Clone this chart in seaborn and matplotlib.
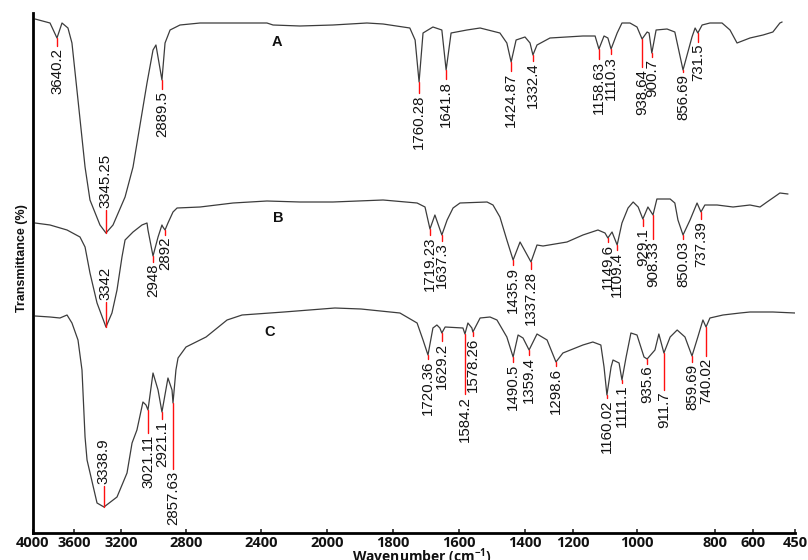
import numpy as np
import pandas as pd
import matplotlib
matplotlib.use("Agg")
import matplotlib.pyplot as plt
import seaborn as sns

# ---------------- data ----------------
# x-axis tick labels (cm-1) as printed on the (non-uniform) axis
TICK_WN = [4000, 3600, 3200, 2800, 2400, 2000, 1800, 1600, 1400, 1200, 1000, 800, 600, 450]

# Spectrum A
A_WN = [3980, 3834, 3766, 3717, 3659, 3620, 3566, 3506, 3464, 3379, 3328, 3268,
        3175, 3126, 3040, 3003, 2985, 2948, 2929, 2898, 2837, 2725, 2549, 2364,
        2327, 2164, 1982, 1879, 1830, 1749, 1733, 1721, 1709, 1679, 1652, 1639,
        1624, 1576, 1536, 1476, 1455, 1442, 1427, 1400, 1379, 1367, 1350, 1296,
        1169, 1131, 1119, 1103, 1091, 1081, 1062, 1047, 1022, 1000, 987, 974,
        969, 962, 951, 923, 903, 882, 859, 851, 844, 833, 813, 763,
        721, 684, 616, 564, 529, 504, 496]
A_T = [102.8, 102, 99, 102, 101, 98, 86.6, 73.2, 66.6, 61.6, 60, 61.6,
       67.2, 73.2, 90, 96.6, 97.6, 90.6, 98, 100.6, 101.6, 102, 102, 102,
       101.6, 101.4, 101.6, 102, 101.8, 101, 98.6, 90.2, 100, 101.2, 100.6, 92.6,
       100, 100.6, 101, 100, 98, 94.2, 98.6, 99.2, 98, 95.6, 97.6, 99,
       99.4, 99.4, 96.8, 99.4, 99, 96.8, 100, 102, 102, 101.2, 98.8, 100.2,
       100, 96, 100.6, 100.8, 100.2, 92.6, 99.2, 101, 100, 101.6, 102, 102,
       100.6, 98, 99, 99.6, 100.2, 102, 102.2]

# Spectrum B
B_WN = [3980, 3834, 3668, 3549, 3506, 3464, 3404, 3328, 3277, 3234, 3194, 3175,
        3126, 3071, 3040, 3034, 3003, 2972, 2948, 2942, 2929, 2911, 2880, 2855,
        2725, 2549, 2364, 2164, 1982, 1830, 1727, 1703, 1688, 1673, 1652, 1636,
        1618, 1597, 1515, 1497, 1476, 1455, 1436, 1415, 1375, 1350, 1325, 1225,
        1169, 1122, 1100, 1091, 1078, 1062, 1047, 1028, 1012, 997, 985, 972,
        959, 949, 915, 903, 895, 882, 864, 846, 836, 826, 789, 705,
        616, 575, 550, 514, 504, 475]
B_T = [62, 61.6, 60.6, 59.2, 57.2, 52, 46, 41.2, 44, 48.6, 55.2, 58.6,
       60.2, 61.6, 62, 60.6, 55.4, 59.2, 61.6, 61.2, 60.6, 62, 64.2, 65,
       65.2, 66, 66.4, 66.2, 66.2, 66.6, 66, 65.2, 60.8, 63.6, 59.6, 62.6,
       65, 66, 66.2, 65.6, 63.2, 58.6, 54.6, 58.2, 54.2, 57.6, 57.4, 58.2,
       59.6, 60.6, 60, 59, 60.2, 57.6, 62, 65, 66.2, 65.2, 62.8, 65.2,
       63.6, 66.8, 66.8, 66, 62.6, 59.6, 62.6, 66, 64.2, 65.6, 65.6, 65.2,
       65.6, 65.2, 66.2, 67.6, 68, 67.8]

# Spectrum C
C_WN = [3980, 3834, 3737, 3668, 3620, 3566, 3532, 3506, 3489, 3404, 3345, 3234,
        3163, 3132, 3102, 3065, 3046, 3034, 3003, 2972, 2948, 2911, 2886, 2880,
        2862, 2849, 2800, 2693, 2581, 2501, 2261, 1976, 1897, 1779, 1727, 1709,
        1694, 1679, 1667, 1658, 1652, 1642, 1588, 1582, 1573, 1561, 1558, 1536,
        1506, 1485, 1455, 1436, 1421, 1406, 1383, 1350, 1308, 1271, 1242, 1169,
        1138, 1113, 1103, 1094, 1081, 1075, 1056, 1047, 1034, 1019, 1000, 982,
        974, 954, 944, 931, 915, 897, 877, 859, 844, 831, 823, 813,
        758, 668, 616, 529, 450]
C_T = [43.4, 43.2, 43, 43.6, 42, 38.6, 32.6, 19.2, 14.6, 6, 5.2, 7.2,
       12, 18, 20.6, 26.2, 25.6, 24.6, 32, 28.6, 24.2, 31, 28.6, 26,
       32.6, 35, 37.2, 39.2, 42.6, 43.6, 44.2, 45, 44.8, 44, 42, 38.6,
       35.6, 41, 41.6, 41, 40, 41.2, 41, 39.8, 42, 41, 40.2, 43,
       43.2, 42.6, 39.2, 35.2, 39.6, 39, 36.6, 39.8, 38.6, 34.2, 36, 37.6,
       38.2, 37.6, 33.2, 27.6, 33.2, 34.6, 34, 30.6, 35.2, 40, 39.6, 35.2,
       34.8, 36.6, 39.8, 36, 39.2, 40.6, 39.2, 35.4, 39.2, 42.6, 41.2, 43,
       43.6, 44, 44.2, 44.2, 44]

# Peak annotations: printed label, position on axis, trace value at peak, value where label starts
A_PEAK_LABELS = ["3640.2", "3345.25", "2889.5", "1760.28", "1641.8", "1424.87", "1332.4",
                 "1158.63", "1110.3", "938.64", "900.7", "856.69", "731.5"]
A_PEAK_WN = [3766, 3328, 2948, 1721, 1639, 1442, 1367, 1119, 1081, 987, 962, 882, 844]
A_PEAK_T = [99, 60, 90.6, 90.2, 92.6, 94.2, 95.6, 96.8, 96.8, 98.8, 96, 92.6, 100]
A_LABEL_T = [97.4, 64.6, 88.8, 88, 90.8, 92.4, 94.4, 94.8, 95.8, 93.2, 95.2, 92.2, 98.2]

B_PEAK_LABELS = ["3342", "2948", "2892", "1719.23", "1637.3", "1435.9", "1337.28",
                 "1149.6", "1109.4", "929.1", "908.33", "850.03", "737.39"]
B_PEAK_WN = [3328, 3003, 2929, 1688, 1652, 1436, 1375, 1091, 1062, 985, 959, 882, 836]
B_PEAK_T = [41.2, 55.4, 60.6, 60.8, 59.6, 54.6, 54.2, 59, 57.6, 62.8, 63.6, 59.6, 64.2]
B_LABEL_T = [46.2, 54.2, 59.6, 59.6, 58.4, 53.6, 52.8, 58.2, 56.6, 61.4, 58.8, 58.8, 62.8]

C_PEAK_LABELS = ["3338.9", "3021.11", "2921.1", "2857.63", "1720.36", "1629.2", "1584.2",
                 "1578.26", "1490.5", "1359.4", "1298.6", "1160.02", "1111.1", "935.6",
                 "911.7", "859.69", "740.02"]
C_PEAK_WN = [3345, 3034, 2948, 2880, 1694, 1652, 1582, 1558, 1436, 1383, 1271, 1094,
             1047, 974, 931, 859, 823]
C_PEAK_T = [5.2, 24.6, 24.2, 26, 35.6, 40, 39.8, 40.2, 35.2, 36.6, 34.2, 27.6,
            30.6, 34.8, 36, 35.4, 41.2]
C_LABEL_T = [9.4, 20, 22.8, 12.8, 34.8, 38.4, 27.8, 39.4, 34.2, 35.6, 33.4, 27,
             30, 33.8, 28.6, 34.2, 35.4]

SAMPLE_NAMES = ["A", "B", "C"]
SAMPLE_NAME_WN = [2303, 2297, 2345]
SAMPLE_NAME_T = [98.2, 63, 40.2]

# ---------------- layout / style ----------------
# position of each printed tick along the (hand-spaced) axis
AXIS_POS = [33, 74, 121, 186, 261, 327, 393, 459, 525, 573, 637, 715, 753, 795]

W, H = 808, 560
sns.set_theme(style="white")
plt.rcParams["font.family"] = ["Liberation Sans", "DejaVu Sans"]
plt.rcParams["mathtext.fontset"] = "custom"
plt.rcParams["mathtext.rm"] = "Open Sans"
plt.rcParams["mathtext.bf"] = "Open Sans:bold"

# forward: increasing function of -wavenumber -> position along the axis
_wn_neg = -np.array(TICK_WN, float)   # ascending
_pos = np.array(AXIS_POS, float)      # ascending


def _pw(x, xp, fp):
    x = np.asarray(x, float)
    out = np.interp(x, xp, fp)
    s0 = (fp[1] - fp[0]) / (xp[1] - xp[0])
    s1 = (fp[-1] - fp[-2]) / (xp[-1] - xp[-2])
    out = np.where(x < xp[0], fp[0] + (x - xp[0]) * s0, out)
    out = np.where(x > xp[-1], fp[-1] + (x - xp[-1]) * s1, out)
    return out


def fwd(w):
    # increasing in w: minus the position
    return -_pw(-np.asarray(w, float), _wn_neg, _pos)


def inv(u):
    return -_pw(-np.asarray(u, float), _pos, _wn_neg)


fig = plt.figure(figsize=(W / 100, H / 100), dpi=100)
left_px, right_px, top_px, bottom_px = 33, 795, 13, 533
ax = fig.add_axes([left_px / W, (H - bottom_px) / H,
                   (right_px - left_px) / W, (bottom_px - top_px) / H])
ax.set_xscale("function", functions=(fwd, inv))

line_color = "#3c3c3c"
for name, wn, t in [("A", A_WN, A_T), ("B", B_WN, B_T), ("C", C_WN, C_T)]:
    df = pd.DataFrame({"wn": wn, "T": t})
    sns.lineplot(data=df, x="wn", y="T", ax=ax, estimator=None, sort=False,
                 color=line_color, linewidth=0.9)

label_kw = dict(fontsize=10.8, color="#111111", family=["Liberation Sans", "DejaVu Sans"],
                rotation=90, ha="center", rotation_mode="default")
gap = 0.35
for labels, wns, pts, lts in [(A_PEAK_LABELS, A_PEAK_WN, A_PEAK_T, A_LABEL_T),
                              (B_PEAK_LABELS, B_PEAK_WN, B_PEAK_T, B_LABEL_T),
                              (C_PEAK_LABELS, C_PEAK_WN, C_PEAK_T, C_LABEL_T)]:
    for lab, w, pt, lt in zip(labels, wns, pts, lts):
        ax.plot([w, w], [pt, lt], color="#ff1010", linewidth=1.0, zorder=3)
        if lt > pt:
            ax.text(w, lt + gap, lab, va="bottom", **label_kw)
        else:
            ax.text(w, lt - gap, lab, va="top", **label_kw)

for n, w, t in zip(SAMPLE_NAMES, SAMPLE_NAME_WN, SAMPLE_NAME_T):
    ax.text(w, t, n, fontsize=10.5, fontweight="bold", ha="center", va="center",
            color="#111111", family=["Liberation Sans", "DejaVu Sans"])

ax.set_xlim(TICK_WN[0], TICK_WN[-1])
ax.set_ylim(0, 104)
ax.set_xticks(TICK_WN)
ax.set_xticklabels([str(v) for v in TICK_WN], fontfamily="Open Sans",
                   fontweight="bold", fontsize=10.5, color="#111111")
ax.set_yticks([])
ax.tick_params(axis="x", direction="in", length=3, width=1.2, pad=2, bottom=True)

for s in ["top", "right"]:
    ax.spines[s].set_visible(False)
for s in ["left", "bottom"]:
    ax.spines[s].set_color("black")
    ax.spines[s].set_linewidth(2.0)

ax.set_xlabel(r"Wavenumber (cm$^{\mathbf{-1}}$)", fontfamily="Open Sans",
              fontweight="bold", fontsize=10, color="#111111")
ax.xaxis.set_label_coords((422 - left_px) / (right_px - left_px),
                          (bottom_px - 546) / (bottom_px - top_px))
ax.set_ylabel("Transmittance (%)", fontsize=9, fontweight="bold", color="#111111")
ax.yaxis.set_label_coords((28 - left_px) / (right_px - left_px),
                          (bottom_px - 258) / (bottom_px - top_px))

fig.savefig("out.png", dpi=100)
